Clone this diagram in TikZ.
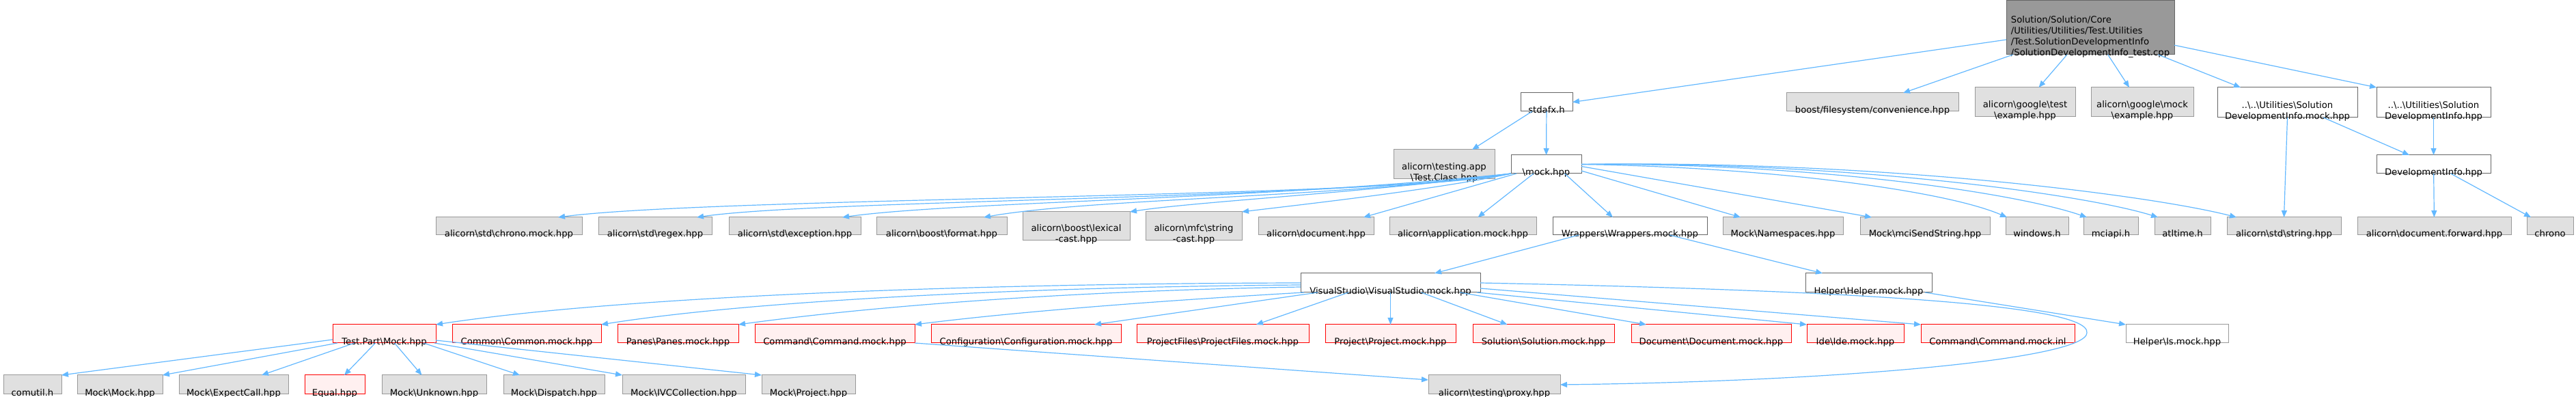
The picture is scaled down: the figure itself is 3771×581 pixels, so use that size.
\documentclass[tikz,border=0pt]{standalone}
\usepackage{fontspec}
\setmainfont{DejaVu Sans}
\usetikzlibrary{arrows.meta,positioning,calc,fit}

\definecolor{depblue}{HTML}{63B8FF}
\definecolor{leafgray}{HTML}{E0E0E0}
\definecolor{leafline}{HTML}{999999}
\definecolor{incline}{HTML}{666666}
\definecolor{truncfill}{HTML}{FFF0F0}
\newcommand{\bs}{\textbackslash}

\tikzset{
  lbl/.style={anchor=south, inner sep=0pt, yshift=-2.6pt, align=center,
    font=\fontsize{6.6}{8}\selectfont, execute at end node={\vphantom{p}}},
  depbox/.style={inner sep=0pt, outer sep=0pt, line width=0.5pt},
  rootbox/.style={depbox, draw=incline, fill=leafline, label={[lbl,align=left]south:#1}},
  graybox/.style={depbox, draw=leafline, fill=leafgray, label={[lbl]south:#1}},
  whitebox/.style={depbox, draw=incline, fill=white, label={[lbl]south:#1}},
  paleline/.style={depbox, draw=leafline, fill=white, label={[lbl]south:#1}},
  redbox/.style={depbox, draw=red, fill=truncfill, label={[lbl]south:#1}},
  dep/.style={draw=depblue, line width=0.6pt, -{Triangle[length=5pt,width=4pt]}}
}

\begin{document}
\begin{tikzpicture}[x=0.5pt,y=0.5pt]
  \useasboundingbox (0,0) rectangle (3771,-581);
  % top file
  \node[rootbox={Solution/Solution/Core\\/Utilities/Utilities/Test.Utilities\\/Test.SolutionDevelopmentInfo\\/SolutionDevelopmentInfo\_test.cpp}, fit={(2937,-1) (3183,-80)}] (root) {};
  % first level
  \node[whitebox={stdafx.h}, fit={(2226,-136) (2302,-163)}] (stdafx) {};
  \node[graybox={boost/filesystem/convenience.hpp}, fit={(2615,-136) (2867,-163)}] (boostfs) {};
  \node[graybox={alicorn\bs google\bs test\\\bs example.hpp}, fit={(2891,-128) (3038,-171)}] (gtest) {};
  \node[graybox={alicorn\bs google\bs mock\\\bs example.hpp}, fit={(3061,-128) (3211,-171)}] (gmock) {};
  \node[whitebox={..\bs ..\bs Utilities\bs Solution\\DevelopmentInfo.mock.hpp}, fit={(3246,-128) (3451,-172)}] (umock) {};
  \node[whitebox={..\bs ..\bs Utilities\bs Solution\\DevelopmentInfo.hpp}, fit={(3479,-128) (3646,-172)}] (uinfo) {};
  % second level
  \node[graybox={alicorn\bs testing.app\\\bs Test.Class.hpp}, fit={(2040,-219) (2188,-262)}] (testapp) {};
  \node[whitebox={\bs mock.hpp}, fit={(2212,-227) (2315,-254)}] (mock) {};
  \node[whitebox={DevelopmentInfo.hpp}, fit={(3479,-227) (3646,-254)}] (devinfo) {};
  % third level
  \node[graybox={alicorn\bs std\bs chrono.mock.hpp}, fit={(638,-318) (852,-344)}] (chronomock) {};
  \node[graybox={alicorn\bs std\bs regex.hpp}, fit={(876,-318) (1042,-344)}] (regex) {};
  \node[graybox={alicorn\bs std\bs exception.hpp}, fit={(1067,-318) (1260,-344)}] (exception) {};
  \node[graybox={alicorn\bs boost\bs format.hpp}, fit={(1283,-318) (1474,-344)}] (format) {};
  \node[graybox={alicorn\bs boost\bs lexical\\-cast.hpp}, fit={(1497,-310) (1654,-352)}] (lexical) {};
  \node[graybox={alicorn\bs mfc\bs string\\-cast.hpp}, fit={(1677,-310) (1818,-352)}] (mfcstring) {};
  \node[graybox={alicorn\bs document.hpp}, fit={(1842,-318) (2011,-344)}] (document) {};
  \node[graybox={alicorn\bs application.mock.hpp}, fit={(2034,-318) (2249,-344)}] (application) {};
  \node[whitebox={Wrappers\bs Wrappers.mock.hpp}, fit={(2273,-318) (2499,-344)}] (wrappers) {};
  \node[graybox={Mock\bs Namespaces.hpp}, fit={(2522,-318) (2698,-344)}] (namespaces) {};
  \node[graybox={Mock\bs mciSendString.hpp}, fit={(2723,-318) (2913,-344)}] (mcisend) {};
  \node[graybox={windows.h}, fit={(2936,-318) (3028,-344)}] (windows) {};
  \node[graybox={mciapi.h}, fit={(3050,-318) (3130,-344)}] (mciapi) {};
  \node[graybox={atltime.h}, fit={(3154,-318) (3236,-344)}] (atltime) {};
  \node[graybox={alicorn\bs std\bs string.hpp}, fit={(3260,-318) (3427,-344)}] (string) {};
  \node[graybox={alicorn\bs document.forward.hpp}, fit={(3451,-318) (3676,-344)}] (docfwd) {};
  \node[graybox={chrono}, fit={(3699,-318) (3767,-344)}] (chrono) {};
  % fourth level
  \node[whitebox={VisualStudio\bs VisualStudio.mock.hpp}, fit={(1904,-400) (2167,-428)}] (vs) {};
  \node[whitebox={Helper\bs Helper.mock.hpp}, fit={(2643,-400) (2828,-428)}] (helper) {};
  % fifth level
  \node[redbox={Test.Part\bs Mock.hpp}, fit={(487,-475) (638,-502)}] (testpart) {};
  \node[redbox={Common\bs Common.mock.hpp}, fit={(662,-475) (880,-502)}] (common) {};
  \node[redbox={Panes\bs Panes.mock.hpp}, fit={(904,-475) (1081,-502)}] (panes) {};
  \node[redbox={Command\bs Command.mock.hpp}, fit={(1105,-475) (1339,-502)}] (commandmock) {};
  \node[redbox={Configuration\bs Configuration.mock.hpp}, fit={(1363,-475) (1641,-502)}] (config) {};
  \node[redbox={ProjectFiles\bs ProjectFiles.mock.hpp}, fit={(1664,-475) (1916,-502)}] (projectfiles) {};
  \node[redbox={Project\bs Project.mock.hpp}, fit={(1940,-475) (2131,-502)}] (project) {};
  \node[redbox={Solution\bs Solution.mock.hpp}, fit={(2156,-475) (2363,-502)}] (solution) {};
  \node[redbox={Document\bs Document.mock.hpp}, fit={(2388,-475) (2622,-502)}] (docmock) {};
  \node[redbox={Ide\bs Ide.mock.hpp}, fit={(2645,-475) (2787,-502)}] (ide) {};
  \node[redbox={Command\bs Command.mock.inl}, fit={(2812,-475) (3037,-502)}] (commandinl) {};
  \node[paleline={Helper\bs Is.mock.hpp}, fit={(3112,-475) (3262,-502)}] (ismock) {};
  % bottom level
  \node[graybox={comutil.h}, fit={(5,-549) (90,-577)}] (comutil) {};
  \node[graybox={Mock\bs Mock.hpp}, fit={(113,-549) (238,-577)}] (mockmock) {};
  \node[graybox={Mock\bs ExpectCall.hpp}, fit={(262,-549) (422,-577)}] (expect) {};
  \node[redbox={Equal.hpp}, fit={(446,-549) (534,-577)}] (equal) {};
  \node[graybox={Mock\bs Unknown.hpp}, fit={(559,-549) (712,-577)}] (unknown) {};
  \node[graybox={Mock\bs Dispatch.hpp}, fit={(737,-549) (885,-577)}] (dispatch) {};
  \node[graybox={Mock\bs IVCCollection.hpp}, fit={(911,-549) (1091,-577)}] (ivc) {};
  \node[graybox={Mock\bs Project.hpp}, fit={(1115,-549) (1252,-577)}] (mockproject) {};
  \node[graybox={alicorn\bs testing\bs proxy.hpp}, fit={(2091,-549) (2284,-577)}] (proxy) {};
  \coordinate (loop) at (3055,-487);

  % includes of the top file
  \draw[dep] (root) -- (stdafx.east);
  \draw[dep] (root) -- ($(boostfs.north east)+(-81,0)$);
  \draw[dep] (root) -- ($(gtest.north)+(20,0)$);
  \draw[dep] (root) -- ($(gmock.north)+(-19,0)$);
  \draw[dep] (root) -- ($(umock.north west)+(34,0)$);
  \draw[dep] (root) -- (uinfo.north west);
  \draw[dep] (stdafx) -- ($(testapp.north east)+(-33,0)$);
  \draw[dep] (stdafx) -- (mock);
  \draw[dep] (umock.south) -- (string.north);
  \draw[dep] ($(umock.south east)+(-50,0)$) -- ($(devinfo.north west)+(48,0)$);
  \draw[dep] (uinfo) -- (devinfo);
  \draw[dep] (devinfo) -- (docfwd);
  \draw[dep] ($(devinfo.south)+(25,0)$) -- ($(chrono.north west)+(6,0)$);
  % mock.hpp
  \draw[dep] (mock.south west) .. controls (2050,-290) and (1050,-288) .. ($(chronomock.north east)+(-35,0)$);
  \draw[dep] (mock.south west) .. controls (1950,-292) and (1200,-292) .. ($(regex.north east)+(-22,0)$);
  \draw[dep] (mock.south west) .. controls (1850,-292) and (1400,-295) .. ($(exception.north east)+(-27,0)$);
  \draw[dep] (mock.south west) .. controls (1950,-290) and (1600,-290) .. ($(format.north east)+(-34,0)$);
  \draw[dep] (mock.south west) .. controls (2000,-282) and (1750,-295) .. (lexical.north east);
  \draw[dep] (mock.south west) .. controls (2100,-278) and (1900,-300) .. (mfcstring.north east);
  \draw[dep] ($(mock.south west)+(8,0)$) -- ($(document.north east)+(-15,0)$);
  \draw[dep] ($(mock.south west)+(33,0)$) -- ($(application.north)+(22,0)$);
  \draw[dep] ($(mock.south)+(27,0)$) -- ($(wrappers.north)+(-25,0)$);
  \draw[dep] ($(mock.south east)+(0,4)$) -- ($(namespaces.north)+(-62,0)$);
  \draw[dep] ($(mock.east)+(0,-3)$) -- ($(mcisend.north west)+(17,0)$);
  \draw[dep] (mock.east) .. controls (2600,-245) and (2850,-280) .. ($(windows.north west)+(2,0)$);
  \draw[dep] (mock.east) .. controls (2650,-238) and (2950,-282) .. ($(mciapi.north west)+(5,0)$);
  \draw[dep] (mock.east) .. controls (2700,-236) and (3050,-284) .. ($(atltime.north west)+(5,0)$);
  \draw[dep] (mock.east) .. controls (2750,-234) and (3150,-286) .. ($(string.north west)+(14,0)$);
  % wrappers
  \draw[dep] ($(wrappers.south west)+(38,0)$) -- ($(vs.north east)+(-67,0)$);
  \draw[dep] ($(wrappers.south east)+(-55,0)$) -- ($(helper.north west)+(25,0)$);
  \draw[dep] ($(helper.south east)+(-10,0)$) -- (ismock.north west);
  % visual studio mock
  \draw[dep] (vs.west) .. controls (1400,-415) and (900,-435) .. (testpart.north east);
  \draw[dep] ($(vs.west)+(0,-3)$) .. controls (1500,-420) and (1100,-440) .. (common.north east);
  \draw[dep] ($(vs.south west)+(0,8)$) .. controls (1600,-425) and (1300,-445) .. (panes.north east);
  \draw[dep] ($(vs.south west)+(5,0)$) .. controls (1700,-440) and (1500,-455) .. (commandmock.north east);
  \draw[dep] ($(vs.south west)+(25,0)$) -- ($(config.north east)+(-39,0)$);
  \draw[dep] ($(vs.south west)+(70,0)$) -- ($(projectfiles.north east)+(-77,0)$);
  \draw[dep] (vs) -- (project);
  \draw[dep] ($(vs.south)+(45,0)$) -- ($(solution.north)+(-53,0)$);
  \draw[dep] ($(vs.south east)+(-30,0)$) -- ($(docmock.north west)+(22,0)$);
  \draw[dep] ($(vs.south east)+(-5,0)$) -- (ide.north west);
  \draw[dep] ($(vs.east)+(0,-8)$) -- (commandinl.north west);
  \draw[dep] (vs.east) .. controls (2700,-425) and (3060,-445) .. (loop) .. controls (3055,-525) and (2700,-558) .. (proxy.east);
  \draw[dep] (commandmock.south east) -- ($(proxy.west)+(0,7)$);
  % test part mock
  \draw[dep] ($(testpart.south west)+(0,5)$) -- (comutil.north east);
  \draw[dep] ($(testpart.south west)+(7,0)$) -- (mockmock.north east);
  \draw[dep] ($(testpart.south west)+(32,0)$) -- ($(expect.north east)+(-39,0)$);
  \draw[dep] ($(testpart.south)+(-13,0)$) -- ($(equal.north)+(14,0)$);
  \draw[dep] ($(testpart.south)+(15,0)$) -- ($(unknown.north)+(-18,0)$);
  \draw[dep] ($(testpart.south east)+(-18,0)$) -- ($(dispatch.north)+(-50,0)$);
  \draw[dep] ($(testpart.south east)+(-2,0)$) -- (ivc.north west);
  \draw[dep] ($(testpart.south east)+(0,4)$) -- (mockproject.north west);
\end{tikzpicture}
\end{document}
